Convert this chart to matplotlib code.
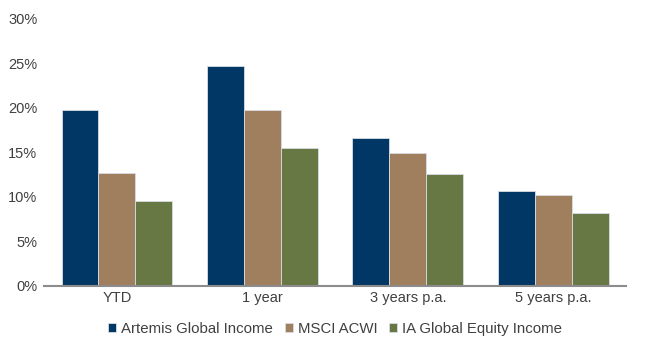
import numpy as np
import matplotlib.pyplot as plt
from matplotlib.ticker import FuncFormatter

periods = ['YTD', '1 year', '3 years p.a.', '5 years p.a.']
artemis = [19.7, 24.75, 16.55, 10.65]
msci = [12.65, 19.75, 14.95, 10.15]
ia_sector = [9.5, 15.5, 12.5, 8.15]
series = ['Artemis Global Income', 'MSCI ACWI', 'IA Global Equity Income']
colors = ['#003764', '#A07F5E', '#687845']

plt.rcParams['font.family'] = ['Liberation Sans', 'DejaVu Sans']
text_color = '#404040'

fig = plt.figure(figsize=(6.5, 3.5), dpi=100)
ax = fig.add_axes([0.068, 0.184, 0.895, 0.762])

x = np.arange(len(periods))
w = 0.254
for i, (vals, name, c) in enumerate(zip([artemis, msci, ia_sector], series, colors)):
    ax.bar(x + (i - 1) * w, vals, w, color=c, label=name,
           edgecolor='#d8dde3', linewidth=0.6)

ax.set_xlim(-0.5, len(periods) - 0.5)
ax.set_ylim(0, 30)
ax.set_yticks(np.arange(0, 31, 5))
ax.yaxis.set_major_formatter(FuncFormatter(lambda v, p: f'{v:.0f}%'))
ax.set_xticks(x)
ax.set_xticklabels(periods)
ax.tick_params(axis='both', length=0, labelsize=10.5, colors=text_color)
ax.tick_params(axis='y', pad=5)
ax.tick_params(axis='x', pad=4)

for s in ['top', 'right', 'left']:
    ax.spines[s].set_visible(False)
ax.spines['bottom'].set_color('#8c8c8c')
ax.spines['bottom'].set_linewidth(1.5)

leg = ax.legend(loc='upper center', bbox_to_anchor=(0.5, -0.085), ncol=3,
                frameon=False, fontsize=10.8, handlelength=0.55, handleheight=0.55,
                handletextpad=0.3, columnspacing=0.8)
for t in leg.get_texts():
    t.set_color(text_color)

fig.savefig('out.png', dpi=100)
